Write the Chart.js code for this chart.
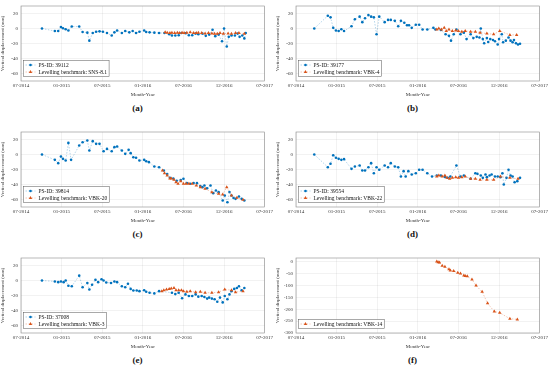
<!DOCTYPE html>
<html>
<head>
<meta charset="utf-8">
<script src="https://cdn.jsdelivr.net/npm/chart.js@4/dist/chart.umd.min.js"></script>
<style>
body { margin: 0; background: #fff; width: 550px; height: 369px; position: relative; overflow: hidden; }
.panel { position: absolute; width: 275px; height: 98px; }
.cap { position: absolute; width: 275px; text-align: center; font: bold 9px "Liberation Serif", serif; color: #111; }
</style>
</head>
<body>
<canvas class="panel" id="pa" width="275" height="98" style="left:0px;top:0px"></canvas>
<canvas class="panel" id="pb" width="275" height="98" style="left:275px;top:0px"></canvas>
<canvas class="panel" id="pc" width="275" height="98" style="left:0px;top:126px"></canvas>
<canvas class="panel" id="pd" width="275" height="98" style="left:275px;top:126px"></canvas>
<canvas class="panel" id="pe" width="275" height="98" style="left:0px;top:252px"></canvas>
<canvas class="panel" id="pf" width="275" height="98" style="left:275px;top:252px"></canvas>
<div class="cap" style="left:0px;top:103px">(a)</div>
<div class="cap" style="left:275px;top:103px">(b)</div>
<div class="cap" style="left:0px;top:229px">(c)</div>
<div class="cap" style="left:275px;top:229px">(d)</div>
<div class="cap" style="left:0px;top:355px">(e)</div>
<div class="cap" style="left:275px;top:355px">(f)</div>
<script>
// x = months since 07-2014, y = vertical displacement (mm)
const monthLabels = ['07-2014', '01-2015', '07-2015', '01-2016', '07-2016', '12-2016', '07-2017'];
const yTicksPS = [-60, -40, -20, 0, 20];
const yTicksF = [-300, -250, -200, -150, -100, -50, 0];

const psA = [[3.1,0],[5.0,-3.4],[5.5,-3.4],[5.9,2.1],[6.2,0.4],[6.6,-0.9],[7.0,-2.6],[7.5,2.6],[8.6,2.6],[9.1,-4.7],
  [9.8,-5.5],[10.1,-16.2],[10.6,-6],[11.1,-4.3],[11.6,-3.8],[12.1,-4.3],[12.7,-6],[13.4,-9.4],[13.8,-5.1],[14.2,-2.6],
  [14.9,-6],[15.4,-3.4],[16.0,-5.1],[16.5,-3.4],[17.0,-6],[17.5,-4.3],[18.2,-2.6],[18.5,-4.7],[19.0,-5.1],[19.7,-5.5],
  [20.4,-6],[21.2,-6],[21.9,-7.7],[22.3,-9.4],[22.8,-9.4],[23.3,-9],[23.7,-6],[24.3,-6.4],[24.8,-9],[25.3,-9],
  [25.8,-6.8],[26.2,-7.7],[26.8,-6.8],[27.3,-9.8],[27.8,-8.1],[28.3,-1.7],[28.7,-10.2],[29.2,-8.1],[29.7,-17],[30.0,0],
  [30.4,-23.9],[30.7,-11.1],[31.1,-9.4],[31.6,-9.4],[32.0,-6.8],[32.3,-11.1],[32.7,-9.4],[33.0,-13.2],[33.2,-6]];
const lvA = [[21.3,-5],[21.6,-5.5],[22.0,-6],[22.3,-5.5],[22.7,-6],[23.1,-5.5],[23.4,-6],[23.8,-5.5],[24.1,-6],[24.5,-5.5],
  [25.0,-5],[25.5,-6],[25.9,-6],[26.2,-5.5],[26.7,-6],[27.2,-6.5],[27.7,-6],[28.2,-6.5],[28.6,-7],[29.0,-7],
  [29.4,-6],[29.9,-7],[30.6,-6.5],[31.1,-7],[31.7,-6],[32.2,-6],[33.0,-7]];

const psB = [[2.7,0],[4.7,17],[5.1,14.9],[5.5,0.9],[5.9,-2.6],[6.3,-3.4],[6.7,-0.9],[7.1,-3.4],[8.2,3],[8.7,12.4],
  [9.4,15.8],[9.8,8.5],[10.2,13.6],[10.7,17.9],[11.1,15.8],[11.5,14.9],[11.9,-7.7],[12.3,15.8],[13.1,8.5],[13.6,11.5],
  [14.0,11.5],[14.6,10.2],[15.1,3],[15.5,10.2],[16.0,7.7],[16.4,4.3],[16.7,4.3],[17.1,0.9],[17.7,5.1],[18.2,5.1],
  [18.7,-1.3],[19.4,-1.3],[20.3,0.9],[20.6,-1.3],[21.4,-2],[22.1,-7.7],[22.6,-9.8],[22.9,-16.2],[23.3,-7.7],[23.7,-1.3],
  [24.3,-7.7],[24.8,-5.5],[25.2,-14.1],[25.8,-7.7],[26.2,-12.8],[26.7,-11.1],[27.1,-11.9],[27.3,0],[27.6,-14.1],[27.8,-19.6],
  [28.2,-12.8],[28.4,-17.9],[28.7,-14.1],[29.1,-15.3],[29.4,-17],[29.8,-21.3],[30.0,-14.1],[30.4,-7.7],[30.6,-18.3],[31.0,-16.2],
  [31.4,-11.9],[31.7,-16.2],[32.0,-18.3],[32.2,-15.3],[32.5,-19.6],[32.8,-21.3],[33.1,-20.4]];
const lvB = [[20.8,-1.3],[21.1,0],[21.5,-1.3],[21.9,0.9],[22.2,-3.4],[22.6,-1.3],[23.1,-3.4],[23.6,-2.6],[24.0,-3.4],[24.5,-4.3],
  [25.0,-3.4],[25.8,-4.3],[26.5,-4.3],[27.2,-5.5],[28.2,-6.8],[29.2,-7.7],[30.1,-3.4],[31.6,-8.5],[32.6,-8.5]];

const psC = [[3.1,0],[5.0,-7.1],[5.5,-11.5],[5.9,-2.7],[6.2,-5.8],[6.6,-8],[7.0,15.5],[7.4,-7.1],[8.6,12],[9.1,16.4],
  [9.8,18.6],[10.1,5.3],[10.6,17.8],[11.1,14.2],[11.6,14.2],[12.2,4.4],[12.7,7.5],[13.4,4.4],[13.8,9.8],[14.2,10.7],
  [14.9,5.3],[15.4,0.9],[15.9,6.2],[16.2,1.8],[16.6,-3.6],[17.0,-4.4],[17.5,-8],[18.2,-7.1],[18.5,-8.9],[18.9,-10.2],
  [19.7,-16],[20.4,-16.9],[21.1,-21.3],[21.6,-26],[22.0,-31],[22.5,-32],[23.0,-35],[23.6,-34],[24.0,-32.4],[24.5,-38],
  [25.0,-39],[25.5,-38],[26.0,-38.2],[26.5,-42],[26.8,-43.5],[27.1,-41.3],[27.5,-45],[28.0,-41.3],[28.4,-51.5],[28.8,-48],
  [29.2,-50.2],[29.8,-61.3],[30.1,-54.6],[30.5,-63.6],[30.8,-50],[31.1,-54.6],[31.4,-58],[31.7,-59.1],[32.2,-56],[32.6,-59.1],
  [33.0,-61.3]];
const lvC = [[20.9,-21.3],[21.2,-24.9],[21.6,-28],[22.0,-32],[22.2,-32],[22.6,-33.8],[22.9,-36.9],[23.2,-39.1],[23.6,-35.5],[24.0,-39.1],
  [24.4,-39.1],[24.8,-39.1],[25.3,-39.1],[25.9,-41.3],[26.5,-43.5],[27.2,-45.8],[28.2,-50.2],[29.2,-52.4],[29.8,-53.3],[30.4,-43.5],
  [31.1,-54.6],[31.9,-57.7],[32.8,-60.4]];

const psD = [[2.7,0],[4.7,-16.9],[5.1,-12.4],[5.5,-0.9],[5.9,-4.4],[6.3,-5.8],[6.7,-7.1],[7.1,-6.2],[8.2,-19.1],[8.7,-16],
  [9.4,-14.7],[9.8,-21.3],[10.2,-21.3],[10.7,-16.9],[11.1,-11.5],[11.5,-24.9],[11.9,-16.9],[12.3,-20.4],[13.1,-14.7],[13.6,-16.9],
  [14.0,-11.5],[14.6,-16],[15.1,-16.9],[15.5,-29.3],[15.9,-22.2],[16.2,-29.3],[16.6,-22.2],[17.1,-26.7],[17.7,-24.9],[18.2,-20.4],
  [18.7,-20.4],[19.4,-24.9],[20.1,-29.3],[20.8,-28],[21.4,-28],[22.0,-30],[22.4,-31],[22.8,-29.3],[23.7,-14.7],[24.3,-29.3],
  [24.8,-28],[25.8,-32.4],[26.5,-24.9],[26.8,-25.8],[27.3,-28],[27.6,-31.1],[28.0,-26.7],[28.2,-30.2],[28.6,-28],[28.9,-26.7],
  [29.4,-29.3],[29.8,-29.3],[30.2,-30.2],[30.5,-24.9],[30.7,-40],[31.1,-31.1],[31.4,-20.4],[31.7,-28],[32.0,-29.3],[32.3,-36.9],
  [32.7,-35.5],[33.1,-31.1]];
const lvD = [[20.8,-29.3],[21.1,-28],[21.6,-29.3],[22.0,-28],[22.3,-31.1],[22.7,-32.4],[23.1,-31.1],[23.6,-30.2],[24.0,-31.1],[24.5,-30.2],
  [25.0,-29.3],[25.8,-32.4],[26.5,-32.4],[27.2,-33.8],[28.2,-33.8],[29.2,-33.8],[30.2,-29.3],[31.6,-31.1],[32.8,-32.4]];

const psE = [[3.1,0],[5.0,-1.3],[5.5,-2.2],[5.9,-1.3],[6.3,-2.2],[6.6,0],[7.0,-6.9],[7.5,-7.7],[8.6,6.5],[9.1,-9],
  [9.8,-3.4],[10.1,-12],[10.5,-5.6],[11.0,0.9],[11.4,-2.2],[11.9,1.7],[12.2,0],[12.6,-2.6],[13.3,-3.4],[13.8,-1.3],
  [14.2,-2.2],[14.9,-7.7],[15.4,-9],[15.8,-4.3],[16.2,-11.2],[16.6,-13.3],[17.1,-13.3],[17.5,-14.2],[18.2,-12.9],[18.5,-15],
  [19.0,-16.3],[19.7,-17.2],[20.4,-14.2],[22.3,-16.3],[22.8,-18.1],[23.3,-16.3],[23.8,-23.7],[24.3,-18.5],[24.8,-20.6],[25.3,-20.6],
  [25.8,-18.5],[26.2,-21.5],[26.7,-20.6],[27.1,-21.9],[27.5,-24.1],[27.8,-22.8],[28.2,-24.1],[28.6,-24.9],[29.0,-28.4],[29.4,-22.8],
  [29.8,-29.2],[30.1,-20.6],[30.5,-24.9],[30.8,-18.5],[31.1,-14.2],[31.5,-11.2],[31.9,-9.9],[32.2,-7.7],[32.6,-12.9],[33.0,-9.9]];
const lvE = [[20.8,-14.2],[21.1,-12.9],[21.5,-12],[21.9,-11.2],[22.2,-10.8],[22.6,-9.9],[22.9,-12.9],[23.3,-12.9],[23.7,-12.9],[24.0,-14.2],
  [24.5,-15],[25.0,-14.2],[25.8,-15.5],[26.5,-15],[27.2,-16.3],[28.2,-16.3],[29.2,-15.5],[30.1,-12],[31.1,-12.9],[31.7,-15.5],
  [32.8,-14.2]];

const lvF = [[20.8,0],[21.0,-3],[21.2,-4.4],[21.6,-17.8],[22.0,-22],[22.6,-32.6],[22.8,-37],[23.3,-40],[23.9,-47],[24.3,-50],
  [24.8,-59],[25.0,-61],[25.3,-62],[26.0,-75],[26.6,-101],[27.5,-127],[28.3,-175],[29.3,-210],[30.1,-215],[31.6,-240],
  [32.7,-243]];

Chart.defaults.font.family = '"Liberation Serif", "DejaVu Serif", serif';
Chart.defaults.font.size = 5;
Chart.defaults.color = '#333';

const frameAndLegend = {
  id: 'frameAndLegend',
  afterDraw(chart) {
    const ctx = chart.ctx, a = chart.chartArea;
    ctx.save();
    ctx.strokeStyle = '#8a8a8a';
    ctx.lineWidth = 0.6;
    ctx.strokeRect(a.left, a.top, a.right - a.left, a.bottom - a.top);

    const sets = chart.data.datasets;
    ctx.font = '5.5px "Liberation Serif", serif';
    let w = 0;
    sets.forEach(d => { w = Math.max(w, ctx.measureText(d.label).width); });
    const rowH = 7, h = sets.length * rowH + 2, bw = w + 17;
    const x0 = a.left + 2.5, y0 = a.bottom - 4.5 - h;
    ctx.fillStyle = '#fff';
    ctx.fillRect(x0, y0, bw, h);
    ctx.strokeStyle = '#555';
    ctx.lineWidth = 0.5;
    ctx.strokeRect(x0, y0, bw, h);
    sets.forEach((d, i) => {
      const cy = y0 + 1 + rowH * (i + 0.5);
      ctx.strokeStyle = d.borderColor;
      ctx.lineWidth = 0.6;
      ctx.setLineDash([1.5, 1.5]);
      ctx.beginPath();
      ctx.moveTo(x0 + 2, cy);
      ctx.lineTo(x0 + 12, cy);
      ctx.stroke();
      ctx.setLineDash([]);
      ctx.fillStyle = d.pointBackgroundColor;
      ctx.strokeStyle = d.pointBackgroundColor;
      Chart.helpers.drawPoint(ctx, { pointStyle: d.pointStyle, radius: d.pointRadius, rotation: 0, borderWidth: 0 }, x0 + 7, cy);
      ctx.fillStyle = '#111';
      ctx.textBaseline = 'middle';
      ctx.fillText(d.label, x0 + 15, cy + 0.3);
    });
    ctx.restore();
  }
};

function psSet(id, pts) {
  return {
    label: 'PS-ID: ' + id,
    data: pts.map(p => ({ x: p[0], y: p[1] })),
    borderColor: 'rgba(0,114,189,0.5)',
    pointBackgroundColor: '#0072BD',
    pointBorderWidth: 0,
    pointRadius: 1.3,
    pointStyle: 'circle',
    borderWidth: 0.6,
    borderDash: [1.5, 1.5],
    order: 2
  };
}

function lvSet(name, pts) {
  return {
    label: 'Levelling benchmark: ' + name,
    data: pts.map(p => ({ x: p[0], y: p[1] })),
    borderColor: 'rgba(217,83,25,0.55)',
    pointBackgroundColor: '#D95319',
    pointBorderWidth: 0,
    pointRadius: 2,
    pointStyle: 'triangle',
    borderWidth: 0.6,
    borderDash: [1.5, 1.5],
    order: 1
  };
}

function makePanel(id, datasets, yMin, yMax, yTicks) {
  return new Chart(document.getElementById(id), {
    type: 'line',
    data: { datasets: datasets },
    plugins: [frameAndLegend],
    options: {
      responsive: false,
      animation: false,
      devicePixelRatio: 1,
      layout: { padding: { top: 5, right: 9, left: 0, bottom: 0 } },
      plugins: { legend: { display: false }, tooltip: { enabled: false } },
      scales: {
        x: {
          type: 'linear',
          min: 0,
          max: 36,
          afterBuildTicks: s => { s.ticks = monthLabels.map((l, i) => ({ value: i * 6 })); },
          ticks: { padding: 2, maxRotation: 0, autoSkip: false, callback: v => monthLabels[Math.round(v / 6)] },
          grid: { color: 'rgba(0,0,0,0.1)', lineWidth: 0.5, drawTicks: false },
          border: { display: false },
          title: { display: true, text: 'Month-Year', padding: { top: 0, bottom: 0 } },
          afterFit: s => { s.height = 17; }
        },
        y: {
          min: yMin,
          max: yMax,
          afterBuildTicks: s => { s.ticks = yTicks.map(v => ({ value: v })); },
          ticks: { padding: 3, autoSkip: false, callback: v => String(v) },
          grid: { color: 'rgba(0,0,0,0.1)', lineWidth: 0.5, drawTicks: false },
          border: { display: false },
          title: { display: true, text: 'Vertical displacement (mm)', padding: { top: 0, bottom: 1 } },
          afterFit: s => { s.width = 21; }
        }
      }
    }
  });
}

makePanel('pa', [psSet('39112', psA), lvSet('SNS-8.1', lvA)], -70, 30, yTicksPS);
makePanel('pb', [psSet('39177', psB), lvSet('VBK-4', lvB)], -70, 30, yTicksPS);
makePanel('pc', [psSet('39814', psC), lvSet('VBK-20', lvC)], -70, 30, yTicksPS);
makePanel('pd', [psSet('39554', psD), lvSet('VBK-22', lvD)], -70, 30, yTicksPS);
makePanel('pe', [psSet('37008', psE), lvSet('VBK-3', lvE)], -70, 30, yTicksPS);
makePanel('pf', [lvSet('VBK-14', lvF)], -300, 15, yTicksF);
</script>
</body>
</html>
